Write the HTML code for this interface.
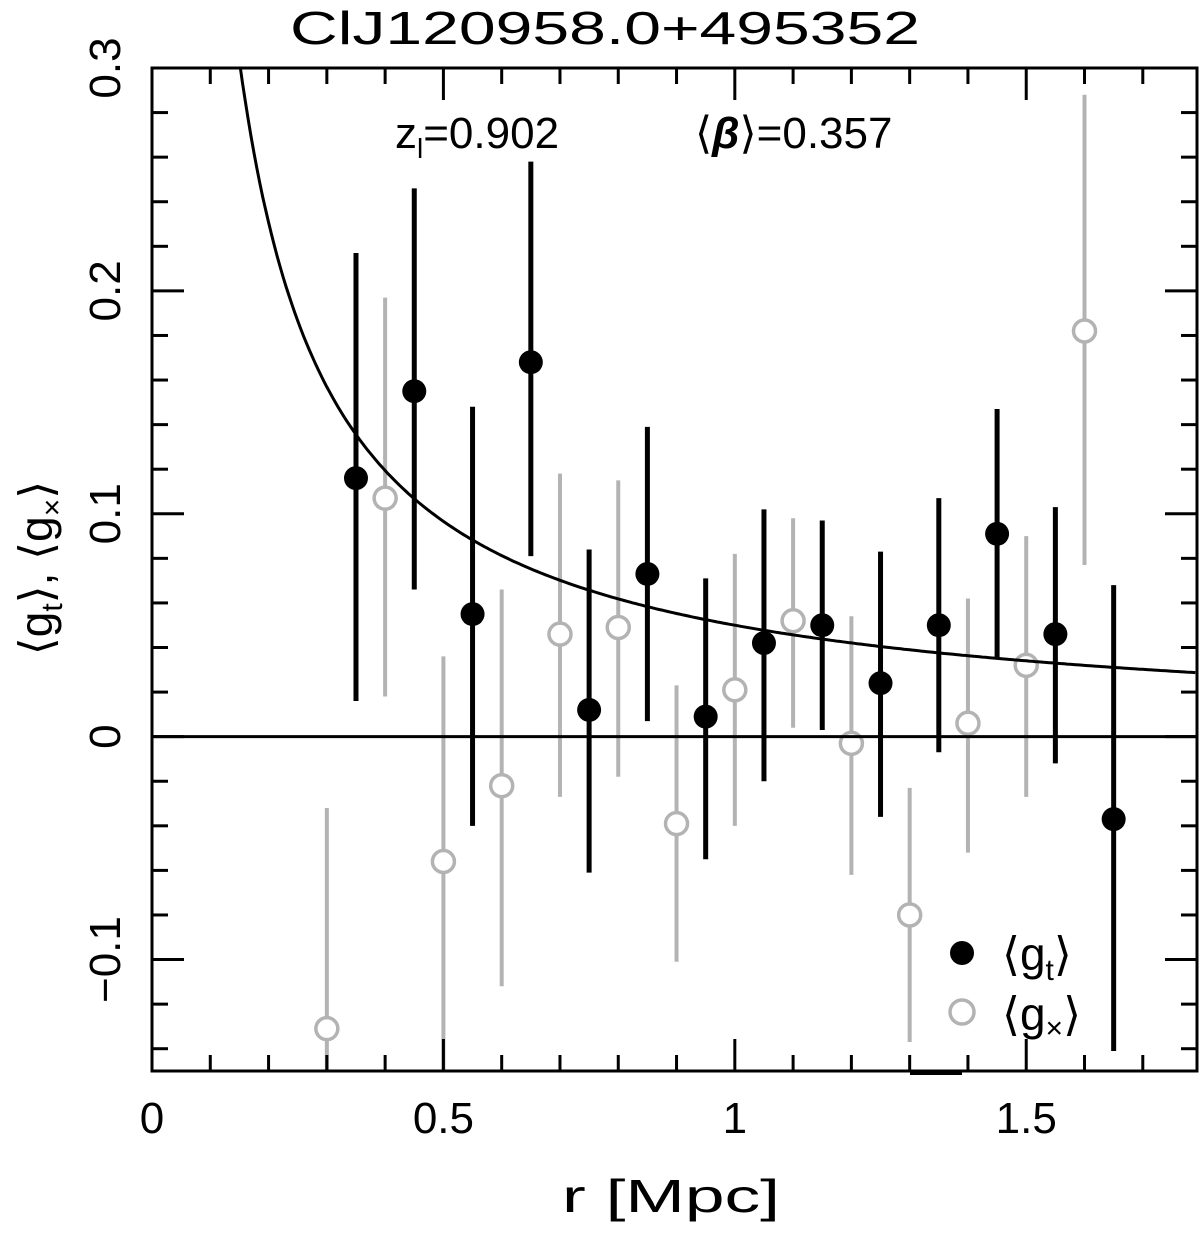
<!DOCTYPE html>
<html><head><meta charset="utf-8"><style>
body{margin:0;background:#fff}
svg text{font-family:"Liberation Sans","DejaVu Sans",sans-serif;fill:#000}
</style></head><body>
<svg id="c" width="1200" height="1228" viewBox="0 0 1200 1228" xmlns="http://www.w3.org/2000/svg">
<text x="290" y="44" font-size="46" textLength="630" lengthAdjust="spacingAndGlyphs">ClJ120958.0+495352</text>
<text x="395" y="148" font-size="44">z<tspan font-size="28" dy="10">l</tspan><tspan dy="-10">=0.902</tspan></text>
<text x="695" y="148" font-size="44">⟨<tspan font-style="italic" font-weight="bold">β</tspan>⟩=0.357</text>
<text x="562" y="1212" font-size="46" textLength="218" lengthAdjust="spacingAndGlyphs">r  [Mpc]</text>
<text transform="translate(52,568) rotate(-90)" font-size="46" text-anchor="middle">⟨g<tspan font-size="30" dy="10">t</tspan><tspan dy="-10">⟩,  ⟨g</tspan><tspan font-size="30" dy="10">×</tspan><tspan dy="-10">⟩</tspan></text>
<g id="plot"></g>
</svg>
<script>
const gtR=[0.35,0.45,0.55,0.65,0.75,0.85,0.95,1.05,1.15,1.25,1.35,1.45,1.55,1.65];
const gtV=[0.116,0.155,0.055,0.168,0.012,0.073,0.009,0.042,0.050,0.024,0.050,0.091,0.046,-0.037];
const gtHi=[0.217,0.246,0.148,0.258,0.084,0.139,0.071,0.102,0.097,0.083,0.107,0.147,0.103,0.068];
const gtLo=[0.016,0.066,-0.040,0.081,-0.061,0.007,-0.055,-0.020,0.003,-0.036,-0.007,0.035,-0.012,-0.141];
const gxR=[0.3,0.4,0.5,0.6,0.7,0.8,0.9,1.0,1.1,1.2,1.3,1.4,1.5,1.6];
const gxV=[-0.131,0.107,-0.056,-0.022,0.046,0.049,-0.039,0.021,0.052,-0.003,-0.080,0.006,0.032,0.182];
const gxHi=[-0.032,0.197,0.036,0.066,0.118,0.115,0.023,0.082,0.098,0.054,-0.023,0.062,0.090,0.288];
const gxLo=[-0.16,0.018,-0.16,-0.112,-0.027,-0.018,-0.101,-0.040,0.004,-0.062,-0.137,-0.052,-0.027,0.077];
const xTicks=[0,0.5,1,1.5];
const xTickLabels=["0","0.5","1","1.5"];
const yTicks=[-0.1,0,0.1,0.2,0.3];
const yTickLabels=["−0.1","0","0.1","0.2","0.3"];
const modelAmp=0.05, modelSlope=0.95;

const L=152,R=1197,T=68,B=1071,X0=0,X1=1.793,Y0=-0.15,Y1=0.3;
const sx=v=>L+(v-X0)/(X1-X0)*(R-L);
const sy=v=>B-(v-Y0)/(Y1-Y0)*(B-T);
const NS="http://www.w3.org/2000/svg";
const g=document.getElementById('plot');
function mk(t,a){const e=document.createElementNS(NS,t);for(const k in a)e.setAttribute(k,a[k]);g.appendChild(e);return e;}
const clipY=v=>Math.max(Y0,Math.min(Y1,v));
for(let i=0;i<gxR.length;i++){
 const l=mk('line',{x1:sx(gxR[i]),x2:sx(gxR[i]),y1:sy(clipY(gxHi[i])),y2:sy(clipY(gxLo[i])),stroke:'#b3b3b3','stroke-width':4});
 
 
}
for(let i=0;i<gxR.length;i++){
 const c=mk('circle',{cx:sx(gxR[i]),cy:sy(gxV[i]),r:11,fill:'#fff',stroke:'#b3b3b3','stroke-width':3.5});
 
 
}
const z=mk('line',{x1:L,x2:R,y1:sy(0),y2:sy(0),stroke:'#000','stroke-width':3});


let d='';for(let r=0.12;r<=X1;r+=0.005){const v=Math.min(modelAmp*Math.pow(r,-modelSlope),0.31);d+=(d?'L':'M')+sx(r).toFixed(1)+','+sy(v).toFixed(1);}
const cp=mk('clipPath',{id:'cl'});const rc=document.createElementNS(NS,'rect');rc.setAttribute('x',L);rc.setAttribute('y',T);rc.setAttribute('width',R-L);rc.setAttribute('height',B-T);cp.appendChild(rc);
const p=mk('path',{d:d,fill:'none',stroke:'#000','stroke-width':3,'clip-path':'url(#cl)'});


for(let i=0;i<gtR.length;i++){
 const l=mk('line',{x1:sx(gtR[i]),x2:sx(gtR[i]),y1:sy(clipY(gtHi[i])),y2:sy(clipY(gtLo[i])),stroke:'#000','stroke-width':5});
 
 
}
for(let i=0;i<gtR.length;i++){
 const c=mk('circle',{cx:sx(gtR[i]),cy:sy(gtV[i]),r:12,fill:'#000'});
 
 
}
const fr=mk('rect',{x:L,y:T,width:R-L,height:B-T,fill:'none',stroke:'#000','stroke-width':3});


for(let k=0;k<=17;k++){const v=k*0.1;const maj=(k%5===0);const len=maj?32:16;
 mk('line',{x1:sx(v),x2:sx(v),y1:B,y2:B-len,stroke:'#000','stroke-width':3});
 mk('line',{x1:sx(v),x2:sx(v),y1:T,y2:T+len,stroke:'#000','stroke-width':3});}
for(let i=0;i<xTicks.length;i++){const t=mk('text',{x:sx(xTicks[i]),y:1133,'font-size':44,'text-anchor':'middle'});t.textContent=xTickLabels[i];
 
 }
for(let k=-7;k<=15;k++){const v=k*0.02;const maj=(k%5===0);const len=maj?32:16;
 mk('line',{x1:L,x2:L+len,y1:sy(v),y2:sy(v),stroke:'#000','stroke-width':3});
 mk('line',{x1:R,x2:R-len,y1:sy(v),y2:sy(v),stroke:'#000','stroke-width':3});}
for(let i=0;i<yTicks.length;i++){const t=mk('text',{transform:`translate(120,${sy(yTicks[i])}) rotate(-90)`,'font-size':44,'text-anchor':'middle'});t.textContent=yTickLabels[i];
 
 }
mk('line',{x1:910,x2:962,y1:1073,y2:1073,stroke:'#000','stroke-width':4});
const lc1=mk('circle',{cx:962,cy:953,r:12,fill:'#000'});


const lt1=mk('text',{x:1002,y:970,'font-size':46});lt1.innerHTML='⟨g<tspan font-size="30" dy="10">t</tspan><tspan dy="-10">⟩</tspan>';


const lc2=mk('circle',{cx:962,cy:1012,r:12,fill:'#fff',stroke:'#b3b3b3','stroke-width':3.5});


const lt2=mk('text',{x:1002,y:1030,'font-size':46});lt2.innerHTML='⟨g<tspan font-size="30" dy="8">×</tspan><tspan dy="-8">⟩</tspan>';


</script>
</body></html>
